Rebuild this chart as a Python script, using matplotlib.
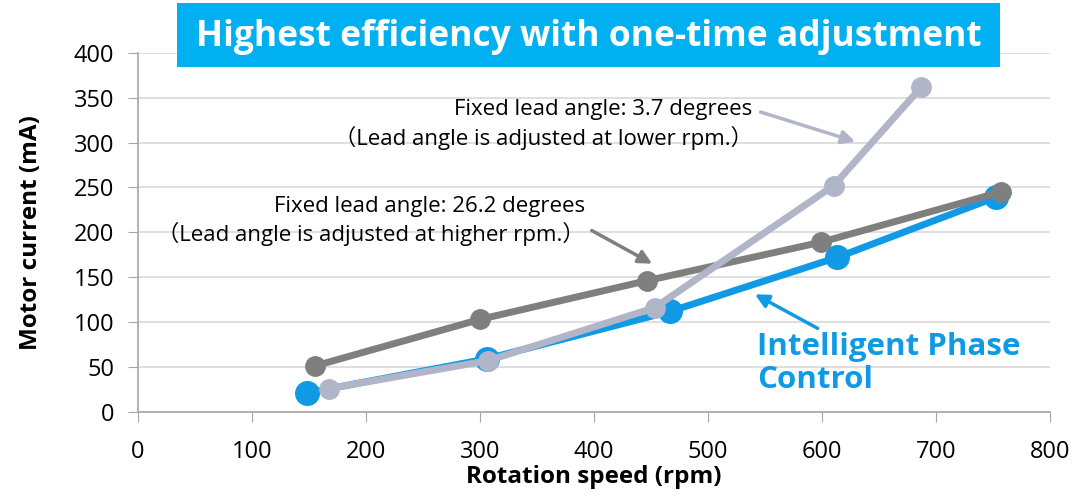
import matplotlib.pyplot as plt
from matplotlib.patches import Rectangle

plt.rcParams['font.family'] = ['Open Sans', 'Noto Sans CJK JP', 'DejaVu Sans']

# Intelligent Phase Control
ipc_rpm = [148, 306, 467, 613, 752]
ipc_ma = [21, 59, 112, 172, 239]

# fixed lead angle 26.2 degrees
high_rpm = [155, 300, 446, 599, 757]
high_ma = [51, 103, 146, 189, 245]

# fixed lead angle 3.7 degrees
low_rpm = [168, 307, 453, 610, 687]
low_ma = [26, 57, 116, 252, 362]

x_ticks = [0, 100, 200, 300, 400, 500, 600, 700, 800]
y_ticks = [0, 50, 100, 150, 200, 250, 300, 350, 400]

blue = "#109ae6"
dark = "#7f7f7f"
light = "#b1b5c8"

fig = plt.figure(figsize=(10.84, 4.98), dpi=100)
ax = fig.add_axes([0.127, 0.173, 0.842, 0.721])

ax.plot(ipc_rpm, ipc_ma, color=blue, linewidth=5, marker="o", markersize=17, zorder=3)
ax.plot(high_rpm, high_ma, color=dark, linewidth=5, marker="o", markersize=14, zorder=4)
ax.plot(low_rpm, low_ma, color=light, linewidth=5, marker="o", markersize=14, zorder=5)

ax.set_xlim(0, 800)
ax.set_ylim(0, 400)
ax.set_xticks(x_ticks)
ax.set_yticks(y_ticks)
ax.tick_params(labelsize=17, length=7, color="#a6a6a6")
ax.tick_params(axis="x", pad=13)
ax.tick_params(axis="y", pad=10)
ax.grid(axis="y", color="#d9d9d9", linewidth=1.2)
ax.set_axisbelow(True)
for s in ["top", "right"]:
    ax.spines[s].set_visible(False)
for s in ["left", "bottom"]:
    ax.spines[s].set_color("#a6a6a6")
    ax.spines[s].set_linewidth(1.2)

ax.set_xlabel("Rotation speed (rpm)", fontsize=17.5, fontweight="bold", labelpad=1)
ax.set_ylabel("Motor current (mA)", fontsize=17.5, fontweight="bold", labelpad=22)

# callout texts
ax.text(539, 320, "Fixed lead angle: 3.7 degrees\n（Lead angle is adjusted at lower rpm.）",
        fontsize=16, ha="right", va="center", multialignment="right", linespacing=1.3)
ax.text(392, 213, "Fixed lead angle: 26.2 degrees\n（Lead angle is adjusted at higher rpm.）",
        fontsize=16, ha="right", va="center", multialignment="right", linespacing=1.25)
ax.text(543, 54, "Intelligent Phase\nControl", fontsize=22.5, fontweight="bold",
        color=blue, ha="left", va="center", linespacing=1.12)

# arrows
arrow = dict(arrowstyle="-|>", lw=2.5, mutation_scale=20, shrinkA=0, shrinkB=0)
ax.annotate("", xy=(629, 301), xytext=(546, 334), arrowprops=dict(arrow, color=light))
ax.annotate("", xy=(451, 165), xytext=(398, 202), arrowprops=dict(arrow, color=dark))
ax.annotate("", xy=(541, 131), xytext=(596, 93), arrowprops=dict(arrow, color=blue))

# title banner
fig.patches.append(Rectangle((177 / 1084, 1 - 67 / 498), 823 / 1084, 64 / 498,
                             transform=fig.transFigure, fc="#00b0f0", ec="none"))
fig.text(588.5 / 1084, 1 - 37 / 498, "Highest efficiency with one-time adjustment",
         fontsize=25.5, fontweight="bold", color="white", ha="center", va="center")

fig.savefig("out.png", dpi=100)
